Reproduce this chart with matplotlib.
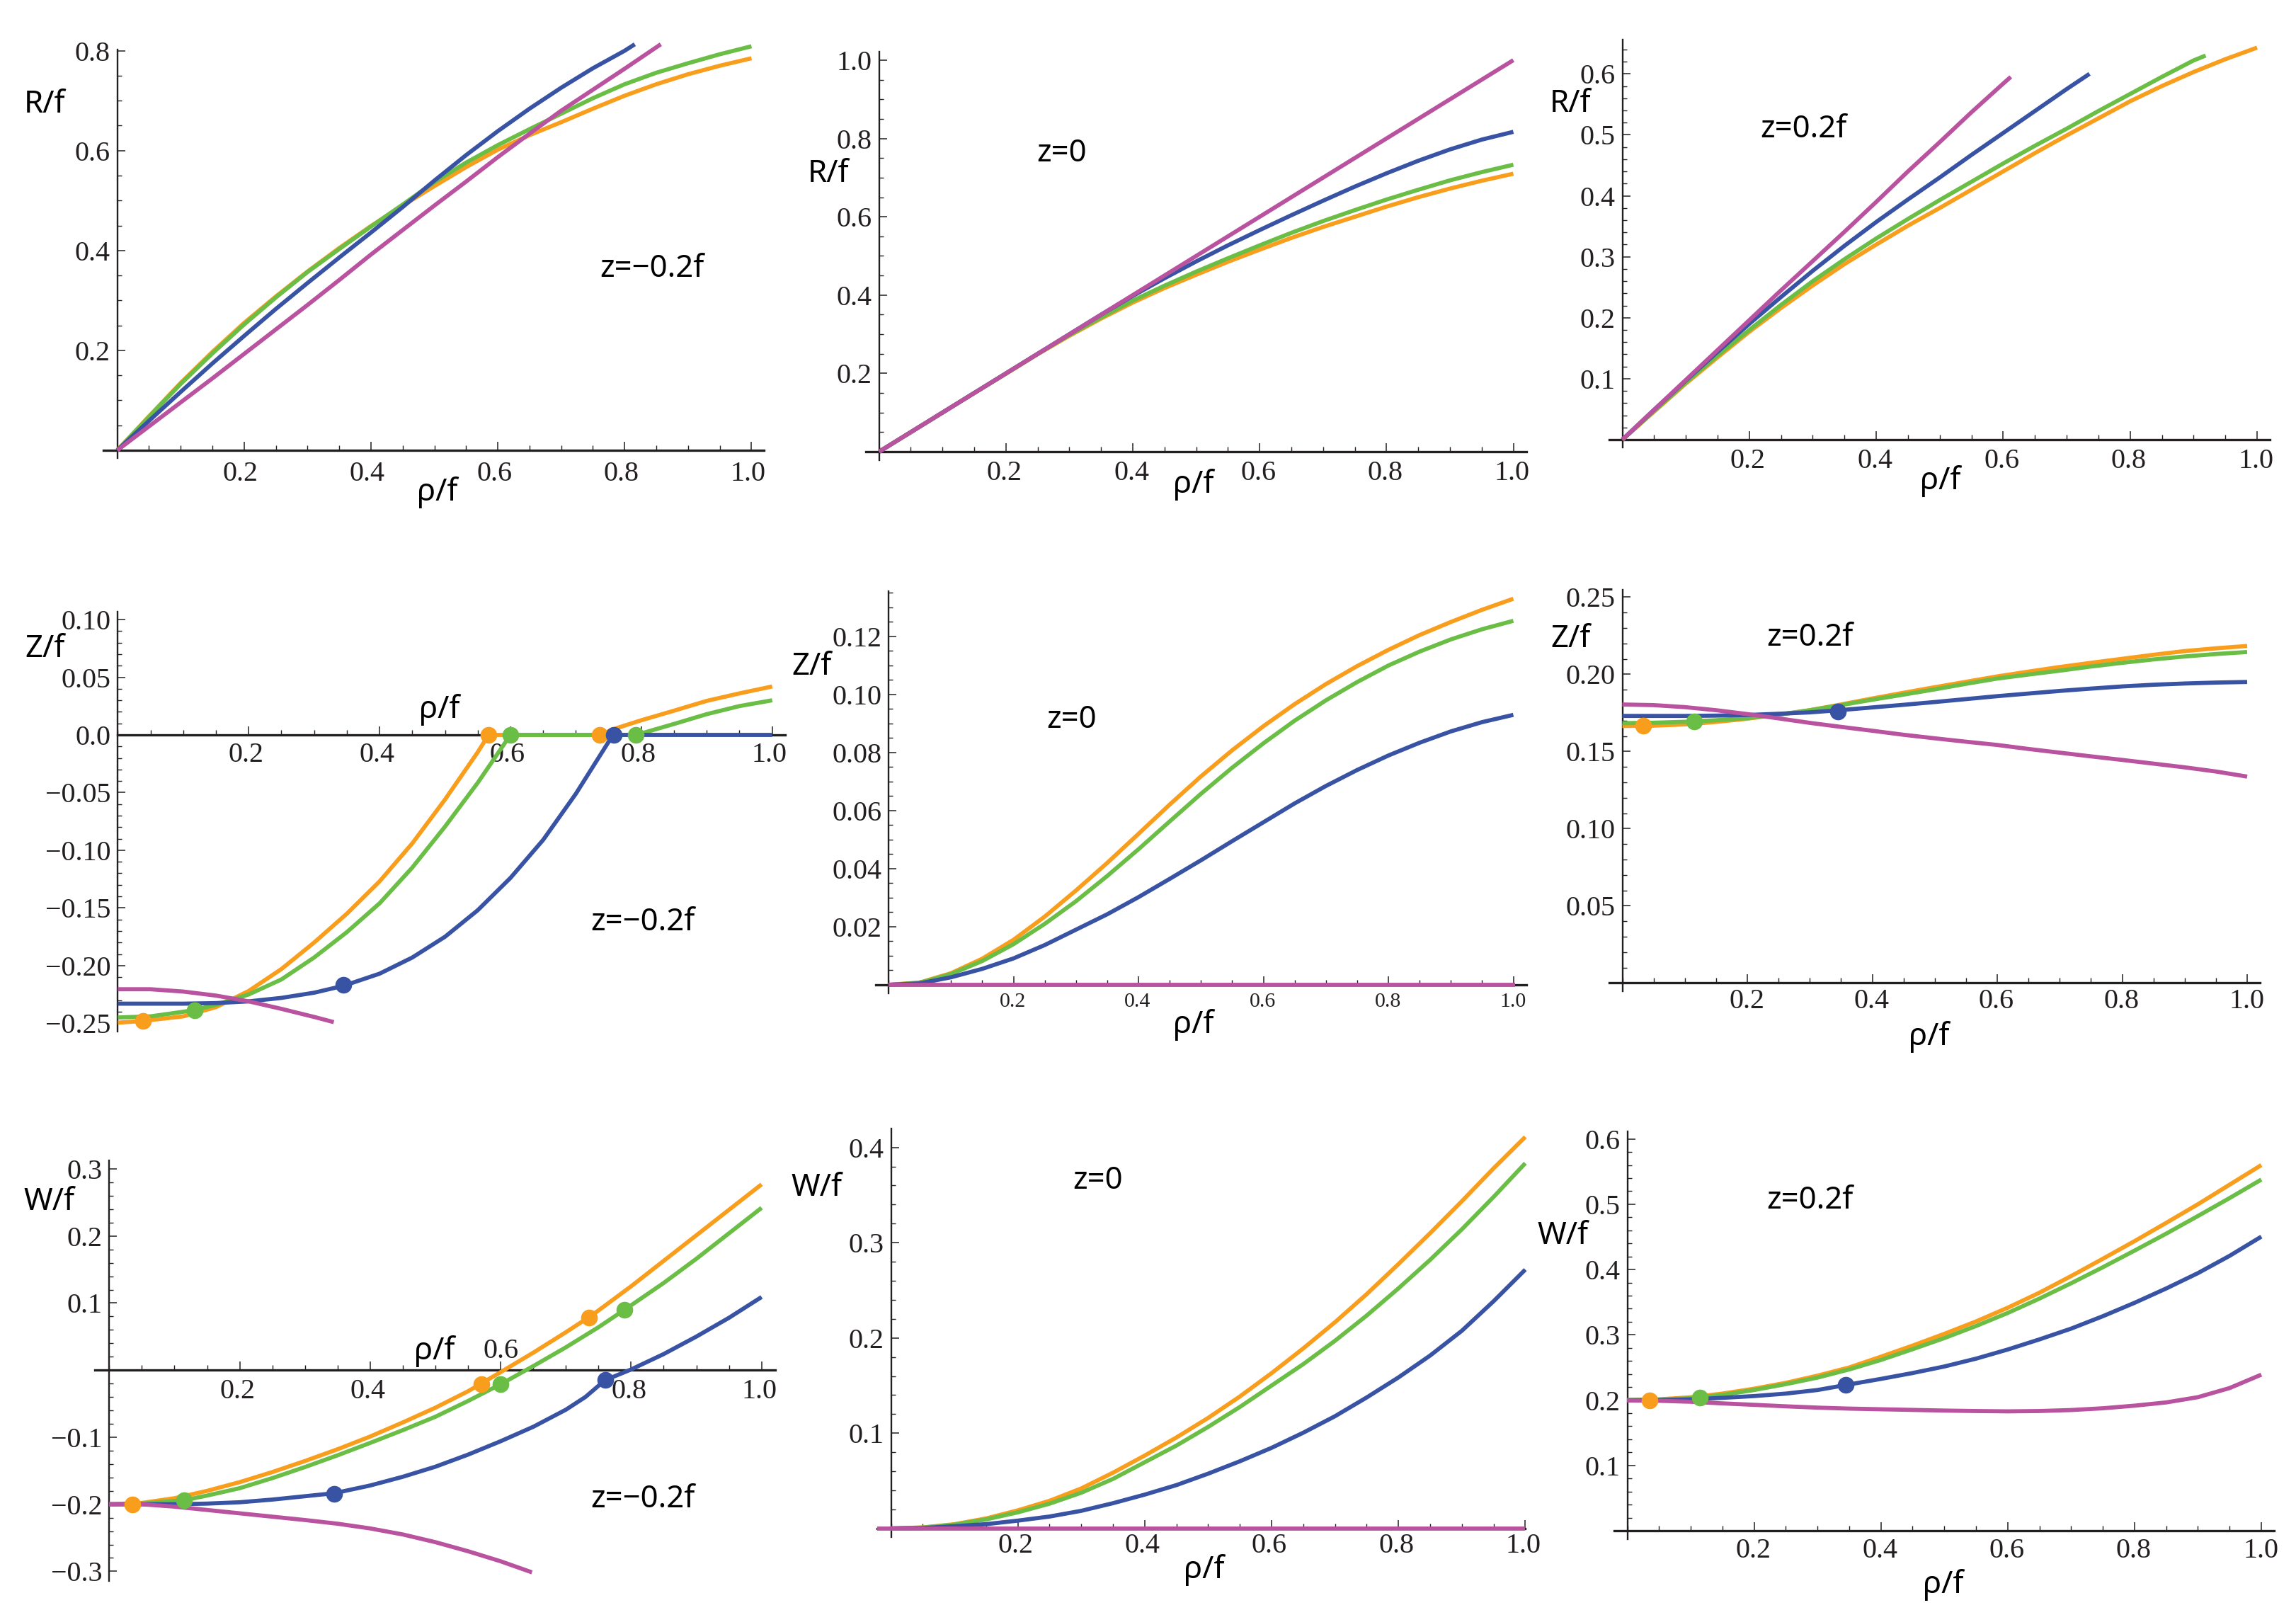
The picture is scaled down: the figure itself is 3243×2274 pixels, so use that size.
import matplotlib
matplotlib.use('Agg')
import matplotlib.pyplot as plt
import matplotlib.transforms as mtransforms
from matplotlib.ticker import MultipleLocator

W, H = 3243, 2274

ORANGE = '#f99d1c'
GREEN = '#6abd45'
BLUE = '#3953a4'
MAGENTA = '#b9529f'
AXIS = '#231f20'

# wspolna siatka rho/f
rho = [0, .05, .1, .15, .2, .25, .3, .35, .4, .45, .5, .55, .6, .65, .7, .75, .8, .85, .9, .95, 1.0]

# R/f, z=-0.2f
R_neg_orange = [0, .068, .135, .197, .255, .308, .358, .405, .449, .49, .529, .567, .602, .631, .657, .684, .71, .733, .753, .77, .785]
R_neg_green = [0, .067, .133, .194, .252, .306, .357, .403, .448, .492, .537, .576, .611, .643, .674, .705, .733, .756, .775, .793, .809]
R_neg_blue_x = [0, .05, .1, .15, .2, .25, .3, .35, .4, .45, .5, .55, .6, .65, .7, .75, .8, .816]
R_neg_blue = [0, .059, .117, .174, .229, .283, .335, .386, .436, .487, .54, .591, .639, .684, .726, .765, .8, .813]
R_neg_magenta_x = [0, .05, .1, .15, .2, .25, .3, .35, .4, .45, .5, .55, .6, .65, .7, .75, .8, .85, .857]
R_neg_magenta = [0, .048, .096, .144, .193, .242, .291, .341, .392, .441, .49, .538, .587, .634, .68, .722, .764, .807, .813]

# R/f, z=0
R_zero_orange = [0, .05, .1, .15, .199, .249, .296, .34, .381, .418, .452, .485, .516, .546, .574, .6, .626, .65, .672, .692, .71]
R_zero_green = [0, .05, .1, .15, .2, .25, .298, .343, .386, .424, .46, .494, .527, .559, .589, .617, .644, .669, .693, .714, .733]
R_zero_blue = [0, .05, .1, .15, .2, .25, .3, .35, .398, .443, .486, .527, .566, .604, .641, .677, .711, .743, .772, .797, .817]
R_zero_magenta_x = [0, .25, .5, .75, 1.0]
R_zero_magenta = [0, .25, .5, .75, 1.0]

# R/f, z=0.2f
R_pos_orange = [0, .046, .092, .135, .177, .216, .253, .288, .32, .351, .38, .41, .44, .47, .499, .527, .555, .58, .603, .624, .643]
R_pos_green_x = [0, .05, .1, .15, .2, .25, .3, .35, .4, .45, .5, .55, .6, .65, .7, .75, .8, .85, .9, .919]
R_pos_green = [0, .047, .094, .138, .18, .221, .26, .296, .33, .362, .393, .423, .453, .482, .51, .539, .567, .595, .622, .63]
R_pos_blue_x = [0, .05, .1, .15, .2, .25, .3, .35, .4, .45, .5, .55, .6, .65, .7, .736]
R_pos_blue = [0, .049, .097, .144, .19, .234, .277, .318, .357, .394, .43, .467, .503, .539, .575, .6]
R_pos_magenta_x = [0, .05, .1, .15, .2, .25, .3, .35, .4, .45, .5, .55, .6, .612]
R_pos_magenta = [0, .049, .098, .147, .196, .245, .293, .341, .39, .44, .488, .537, .584, .595]

# Z/f, z=-0.2f
Z_neg_orange_x = [0, .038, .1, .15, .2, .25, .3, .35, .4, .45, .5, .55, .5665, .736, .763, .8, .85, .9, .95, 1.0]
Z_neg_orange = [-.2495, -.248, -.244, -.236, -.222, -.203, -.18, -.155, -.127, -.094, -.056, -.015, 0, 0, .006, .0127, .021, .0295, .036, .042]
Z_neg_green_x = [0, .05, .1, .117, .15, .2, .25, .3, .35, .4, .45, .5, .55, .6, .792, .85, .9, .95, 1.0]
Z_neg_green = [-.245, -.244, -.24, -.2385, -.234, -.225, -.212, -.193, -.171, -.146, -.115, -.0795, -.0415, 0, 0, .0095, .018, .025, .03]
Z_neg_blue_x = [0, .05, .1, .15, .2, .25, .3, .345, .4, .45, .5, .55, .6, .65, .7, .75, .758, 1.0]
Z_neg_blue = [-.233, -.233, -.233, -.2325, -.231, -.228, -.2235, -.2175, -.207, -.193, -.175, -.152, -.124, -.091, -.051, -.006, 0, 0]
Z_neg_magenta_x = [0, .05, .1, .15, .2, .25, .3, .33]
Z_neg_magenta = [-.2205, -.2205, -.2225, -.226, -.231, -.2375, -.2445, -.249]

# Z/f, z=0
Z_zero_orange = [0, .0008, .004, .009, .0155, .0235, .0325, .042, .052, .0621, .0718, .0808, .0891, .0967, .1036, .1098, .1154, .1205, .125, .1292, .133]
Z_zero_green = [0, .0007, .0037, .0082, .014, .021, .0288, .0375, .0467, .0563, .0658, .0748, .0832, .091, .098, .1043, .11, .1148, .119, .1225, .1254]
Z_zero_blue = [0, .0005, .0026, .0055, .0091, .0137, .019, .0243, .0302, .0365, .0429, .0495, .056, .0625, .0685, .074, .079, .0834, .0873, .0905, .093]
Z_zero_magenta_x = [0, 1.003]
Z_zero_magenta = [0, 0]

# Z/f, z=0.2f
Z_pos_orange = [.1665, .1667, .1675, .1691, .1712, .1738, .1767, .1804, .1843, .188, .1916, .1951, .1986, .2017, .2047, .2074, .21, .2126, .215, .2168, .2183]
Z_pos_green = [.1683, .1686, .1692, .1702, .1716, .1738, .1767, .18, .1835, .1868, .1902, .1938, .1972, .1998, .2023, .205, .2074, .2096, .2115, .2131, .2144]
Z_pos_blue = [.173, .173, .173, .1732, .1736, .1744, .1753, .1768, .1785, .1802, .182, .1839, .1858, .1875, .1892, .1907, .1921, .1932, .194, .1946, .195]
Z_pos_magenta = [.1804, .18, .1787, .1767, .1742, .1714, .1685, .1659, .1634, .1608, .1585, .1563, .1542, .1516, .1492, .1468, .1445, .1421, .1397, .137, .1337]

# W/f, z=-0.2f
W_neg_orange_x = [0, .05, .1, .15, .2, .25, .3, .35, .4, .45, .5, .55, .6, .65, .7, .735, .75, .8, .85, .9, .95, 1.0]
W_neg_orange = [-.2, -.198, -.191, -.18, -.167, -.152, -.1355, -.118, -.099, -.078, -.056, -.0315, -.003, .026, .0565, .0787, .089, .125, .163, .201, .239, .277]
W_neg_green_x = [0, .05, .1, .115, .15, .2, .25, .3, .35, .4, .45, .5, .55, .6, .65, .7, .75, .79, .85, .9, .95, 1.0]
W_neg_green = [-.2, -.199, -.195, -.194, -.187, -.176, -.161, -.1445, -.127, -.1085, -.0895, -.0695, -.046, -.021, .006, .034, .064, .09, .13, .166, .204, .242]
W_neg_blue_x = [0, .05, .1, .15, .2, .25, .3, .345, .4, .45, .5, .55, .6, .65, .7, .73, .76, .8, .85, .9, .95, 1.0]
W_neg_blue = [-.2, -.2, -.2, -.199, -.197, -.193, -.188, -.1835, -.172, -.159, -.144, -.126, -.106, -.0845, -.059, -.04, -.015, .001, .024, .05, .078, .109]
W_neg_magenta_x = [0, .05, .1, .15, .2, .25, .3, .35, .4, .45, .5, .55, .6, .648]
W_neg_magenta = [-.2, -.2, -.2035, -.2085, -.2135, -.2185, -.2235, -.229, -.236, -.245, -.2565, -.27, -.285, -.3015]

# W/f, z=0
W_zero_orange = [0, .001, .0044, .0105, .019, .029, .042, .0585, .0765, .0955, .116, .1385, .163, .189, .2165, .246, .2775, .31, .3435, .378, .411]
W_zero_green = [0, .0009, .004, .0095, .0169, .026, .0375, .052, .0695, .087, .1066, .1275, .15, .1725, .197, .2235, .252, .282, .314, .348, .3834]
W_zero_blue = [0, .0004, .0024, .0045, .0082, .0125, .0185, .0265, .0355, .0455, .0575, .0705, .0846, .1005, .1178, .1375, .1585, .1815, .2075, .2385, .2717]
W_zero_magenta_x = [-.022, 1.0]
W_zero_magenta = [0, 0]

# W/f, z=0.2f
W_pos_orange = [.2, .2012, .2044, .21, .2175, .2265, .2375, .25, .2665, .2835, .3015, .3205, .3415, .3645, .39, .4165, .4435, .4715, .5, .53, .56]
W_pos_green = [.2, .2008, .2028, .208, .2155, .2245, .2345, .247, .2615, .278, .295, .3135, .3335, .3555, .379, .4035, .429, .455, .482, .5095, .5378]
W_pos_blue_x = [0, .05, .1, .15, .2, .25, .3, .345, .4, .45, .5, .55, .6, .65, .7, .75, .8, .85, .9, .95, 1.0]
W_pos_blue = [.2, .2, .2012, .2035, .2062, .21, .2155, .2232, .2325, .2415, .2515, .2635, .2775, .293, .3095, .3285, .349, .371, .3945, .421, .4504]
W_pos_magenta = [.1995, .199, .1975, .195, .1928, .1905, .1885, .187, .186, .185, .184, .1833, .1828, .1833, .1848, .1875, .1915, .1965, .2045, .2185, .239]

# kropki na krzywych
Z_neg_dots_orange = ([.038, .5665, .736], [-.248, 0, 0])
Z_neg_dots_green = ([.117, .6, .792], [-.2385, 0, 0])
Z_neg_dots_blue = ([.345, .758], [-.2165, 0])
Z_pos_dots_orange = ([.033], [.1665])
Z_pos_dots_green = ([.115], [.1695])
Z_pos_dots_blue = ([.345], [.176])
W_neg_dots_orange = ([.035, .57, .735], [-.2, -.0205, .0787])
W_neg_dots_green = ([.115, .6, .79], [-.194, -.021, .09])
W_neg_dots_blue = ([.345, .76], [-.184, -.015])
W_pos_dots_orange = ([.035], [.1995])
W_pos_dots_green = ([.115], [.2035])
W_pos_dots_blue = ([.345], [.2232])

x_ticks = [.2, .4, .6, .8, 1.0]
x_tick_labels = ['0.2', '0.4', '0.6', '0.8', '1.0']

panels = [
    dict(x0=165.7, x1=1061.4, y_ref=(0, 636, .8, 71.7), box=(146, 1079, 70, 647.5), x_off=-5, pad=14.5,
         yt=[.2, .4, .6, .8], ytl=['0.2', '0.4', '0.6', '0.8'], minor=.05,
         curves=[(rho, R_neg_orange, ORANGE), (rho, R_neg_green, GREEN),
                 (R_neg_blue_x, R_neg_blue, BLUE), (R_neg_magenta_x, R_neg_magenta, MAGENTA)], dots=[],
         ylab='R/f', ylab_xy=(63, 148), xlab_xy=(618, 695), note='z=\u22120.2f', note_xy=(921, 380)),
    dict(x0=1241.7, x1=2137.5, y_ref=(0, 638, 1.0, 85), box=(1222.8, 2155.8, 73, 650), x_off=-2, pad=11.5,
         yt=[.2, .4, .6, .8, 1.0], ytl=['0.2', '0.4', '0.6', '0.8', '1.0'], minor=.05,
         curves=[(rho, R_zero_orange, ORANGE), (rho, R_zero_green, GREEN),
                 (rho, R_zero_blue, BLUE), (R_zero_magenta_x, R_zero_magenta, MAGENTA)], dots=[],
         ylab='R/f', ylab_xy=(1170, 246), xlab_xy=(1686, 684), note='z=0', note_xy=(1500, 217)),
    dict(x0=2291.5, x1=3188, y_ref=(0, 621, .6, 104.3), box=(2272.7, 3206, 55.7, 632.4), x_off=-2, pad=12,
         yt=[.1, .2, .3, .4, .5, .6], ytl=['0.1', '0.2', '0.3', '0.4', '0.5', '0.6'], minor=.02,
         curves=[(rho, R_pos_orange, ORANGE), (R_pos_green_x, R_pos_green, GREEN),
                 (R_pos_blue_x, R_pos_blue, BLUE), (R_pos_magenta_x, R_pos_magenta, MAGENTA)], dots=[],
         ylab='R/f', ylab_xy=(2218, 146.5), xlab_xy=(2741, 679), note='z=0.2f', note_xy=(2547, 183)),
    dict(x0=166.4, x1=1090.7, y_ref=(0, 1038, -.25, 1445.3), box=(166.4, 1108.6, 864, 1457), x_off=-4, pad=9.5,
         yt=[-.25, -.2, -.15, -.1, -.05, 0, .05, .1],
         ytl=['\u22120.25', '\u22120.20', '\u22120.15', '\u22120.10', '\u22120.05', '0.0', '0.05', '0.10'], minor=.01,
         curves=[(Z_neg_orange_x, Z_neg_orange, ORANGE), (Z_neg_green_x, Z_neg_green, GREEN),
                 (Z_neg_blue_x, Z_neg_blue, BLUE), (Z_neg_magenta_x, Z_neg_magenta, MAGENTA)],
         dots=[(Z_neg_dots_orange, ORANGE), (Z_neg_dots_green, GREEN), (Z_neg_dots_blue, BLUE)],
         ylab='Z/f', ylab_xy=(63, 917), xlab_xy=(621, 1002), note='z=\u22120.2f', note_xy=(908, 1303)),
    dict(x0=1255, x1=2137.5, y_ref=(0, 1391, .12, 899), box=(1236.8, 2155.8, 835, 1402.7), x_off=-1, pad=11, xfs=21.5,
         yt=[.02, .04, .06, .08, .1, .12], ytl=['0.02', '0.04', '0.06', '0.08', '0.10', '0.12'], minor=.005,
         curves=[(rho, Z_zero_orange, ORANGE), (rho, Z_zero_green, GREEN),
                 (rho, Z_zero_blue, BLUE), (Z_zero_magenta_x, Z_zero_magenta, MAGENTA)], dots=[],
         ylab='Z/f', ylab_xy=(1146, 941.5), xlab_xy=(1686, 1447), note='z=0', note_xy=(1514, 1017)),
    dict(x0=2291.5, x1=3174, y_ref=(0, 1388.4, .25, 843.3), box=(2273.4, 3192, 832.6, 1399.6), x_off=-1, pad=7.5,
         yt=[.05, .1, .15, .2, .25], ytl=['0.05', '0.10', '0.15', '0.20', '0.25'], minor=.01,
         curves=[(rho, Z_pos_orange, ORANGE), (rho, Z_pos_green, GREEN),
                 (rho, Z_pos_blue, BLUE), (rho, Z_pos_magenta, MAGENTA)],
         dots=[(Z_pos_dots_orange, ORANGE), (Z_pos_dots_green, GREEN), (Z_pos_dots_blue, BLUE)],
         ylab='Z/f', ylab_xy=(2218, 903), xlab_xy=(2725, 1464.7), note='z=0.2f', note_xy=(2556, 901)),
    dict(x0=154.3, x1=1075.7, y_ref=(0, 1935.2, .3, 1651), box=(134.3, 1095, 1638.8, 2232.6), x_off=-3, pad=11.5,
         yt=[-.3, -.2, -.1, .1, .2, .3], ytl=['\u22120.3', '\u22120.2', '\u22120.1', '0.1', '0.2', '0.3'], minor=.02,
         curves=[(W_neg_orange_x, W_neg_orange, ORANGE), (W_neg_green_x, W_neg_green, GREEN),
                 (W_neg_blue_x, W_neg_blue, BLUE), (W_neg_magenta_x, W_neg_magenta, MAGENTA)],
         dots=[(W_neg_dots_orange, ORANGE), (W_neg_dots_green, GREEN), (W_neg_dots_blue, BLUE)],
         ylab='W/f', ylab_xy=(69, 1698), xlab_xy=(614, 1908), note='z=\u22120.2f', note_xy=(908, 2118), up_tick=.6),
    dict(x0=1258.5, x1=2154.4, y_ref=(0, 2158.8, .4, 1620.6), box=(1239, 2154.4, 1594, 2171), x_off=-3, pad=6.5,
         yt=[.1, .2, .3, .4], ytl=['0.1', '0.2', '0.3', '0.4'], minor=.02,
         curves=[(rho, W_zero_orange, ORANGE), (rho, W_zero_green, GREEN),
                 (rho, W_zero_blue, BLUE), (W_zero_magenta_x, W_zero_magenta, MAGENTA)], dots=[],
         ylab='W/f', ylab_xy=(1153, 1678), xlab_xy=(1701, 2217), note='z=0', note_xy=(1551, 1668)),
    dict(x0=2298.5, x1=3194, y_ref=(0, 2162, .6, 1608.7), box=(2279.7, 3212, 1597.8, 2173.8), x_off=-1, pad=9.5,
         yt=[.1, .2, .3, .4, .5, .6], ytl=['0.1', '0.2', '0.3', '0.4', '0.5', '0.6'], minor=.02,
         curves=[(rho, W_pos_orange, ORANGE), (rho, W_pos_green, GREEN),
                 (W_pos_blue_x, W_pos_blue, BLUE), (rho, W_pos_magenta, MAGENTA)],
         dots=[(W_pos_dots_orange, ORANGE), (W_pos_dots_green, GREEN), (W_pos_dots_blue, BLUE)],
         ylab='W/f', ylab_xy=(2207, 1746), xlab_xy=(2745, 2238), note='z=0.2f', note_xy=(2556, 1696)),
]

plt.rcParams['font.family'] = ['Liberation Serif', 'DejaVu Sans']

fig = plt.figure(figsize=((W + .01) / 100, (H + .01) / 100), dpi=100)


def label(x, y, s):
    fig.text(x / W, 1 - y / H, s, family='Noto Sans', fontsize=31.5, color='black', ha='center', va='center')


for p in panels:
    left, right, top, bottom = p['box']
    ax = fig.add_axes([left / W, 1 - bottom / H, (right - left) / W, (bottom - top) / H])
    ax.patch.set_alpha(0)

    # osie w pikselach oryginalu -> zakresy danych
    xscale = p['x1'] - p['x0']
    ax.set_xlim((left - p['x0']) / xscale, (right - p['x0']) / xscale)
    v0, y0, v1, y1 = p['y_ref']
    yscale = (y0 - y1) / (v1 - v0)
    ax.set_ylim(v0 + (y0 - bottom) / yscale, v0 + (y0 - top) / yscale)

    for xs, ys, color in p['curves']:
        ax.plot(xs, ys, color=color, lw=4.2, clip_on=False, zorder=3, solid_capstyle='butt')
    for (xs, ys), color in p['dots']:
        ax.plot(xs, ys, 'o', color=color, ms=17, mew=0, clip_on=False, zorder=4)

    ax.spines['top'].set_visible(False)
    ax.spines['right'].set_visible(False)
    ax.spines['left'].set_position(('data', 0))
    ax.spines['bottom'].set_position(('data', 0))
    ax.spines['left'].set_linewidth(1.7)
    ax.spines['bottom'].set_linewidth(2.4)
    ax.spines['left'].set_color(AXIS)
    ax.spines['bottom'].set_color(AXIS)

    ax.set_xticks(x_ticks)
    ax.set_xticklabels(x_tick_labels)
    ax.set_yticks(p['yt'])
    ax.set_yticklabels(p['ytl'])
    ax.xaxis.set_minor_locator(MultipleLocator(.05))
    ax.yaxis.set_minor_locator(MultipleLocator(p['minor']))
    ax.tick_params(axis='x', which='major', direction='in', length=8.5, width=1.1, color=AXIS,
                   labelsize=p.get('xfs', 28.8), pad=p['pad'] * .72, labelcolor=AXIS)
    ax.tick_params(axis='x', which='minor', direction='in', length=5, width=1.0, color=AXIS)
    ax.tick_params(axis='y', which='major', direction='in', length=8, width=1.1, color=AXIS,
                   labelsize=28.8, pad=7, labelcolor=AXIS)
    ax.tick_params(axis='y', which='minor', direction='in', length=4.5, width=1.0, color=AXIS)

    shift = mtransforms.ScaledTranslation(p['x_off'] / 100, 0, fig.dpi_scale_trans)
    for t in ax.get_xticklabels():
        t.set_transform(t.get_transform() + shift)

    # ten jeden podpis siedzi nad osia
    if 'up_tick' in p:
        i = x_ticks.index(p['up_tick'])
        ax.get_xticklabels()[i].set_visible(False)
        ax.annotate(x_tick_labels[i], (p['up_tick'], 0), xytext=(0, 19), textcoords='offset points',
                    ha='center', va='center', fontsize=28.8, color=AXIS)

    label(*p['ylab_xy'], p['ylab'])
    label(*p['xlab_xy'], '\u03c1/f')
    label(*p['note_xy'], p['note'])

fig.savefig('out.png', dpi=100)
